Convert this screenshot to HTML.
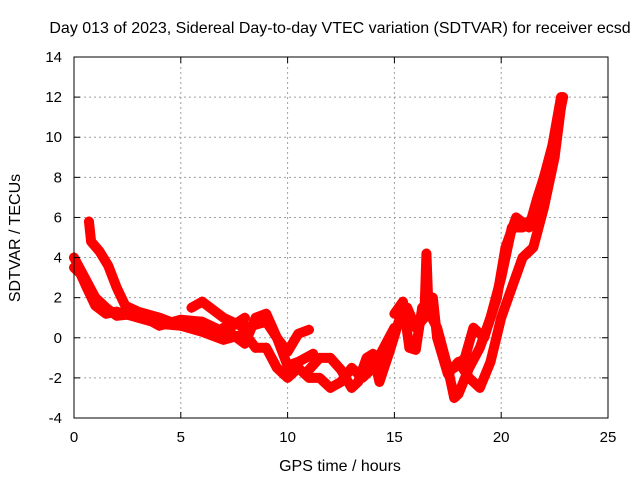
<!DOCTYPE html>
<html><head><meta charset="utf-8"><style>
html,body{margin:0;padding:0;background:#fff;}
svg{display:block;font-family:"Liberation Sans",sans-serif;}
</style></head><body>
<svg id="chart" width="640" height="480">
<text x="340" y="33" font-size="16" text-anchor="middle">Day 013 of 2023, Sidereal Day-to-day VTEC variation (SDTVAR) for receiver ecsd</text>
<text x="340" y="471" font-size="16" text-anchor="middle">GPS time / hours</text>
<text transform="translate(20,238) rotate(-90)" font-size="16" text-anchor="middle">SDTVAR / TECUs</text>
<g id="grid"></g><g id="marks"></g><g id="axes"></g>
</svg>
<script>
const xTicks=[0,5,10,15,20,25];
const yTicks=[-4,-2,0,2,4,6,8,10,12,14];
const seriesA=[[0,3.5],[0.3,3.2],[0.6,2.5],[1,1.6],[1.5,1.2],[2,1.3],[3,1.0],[4,0.7],[5,0.6],[6,0.3],[7,-0.1],[8,0.2],[8.5,-0.5],[9,-0.5],[9.5,-1.5],[10,-2],[10.5,-1.5],[11,-2.0],[11.5,-2.0],[12,-2.5],[12.5,-2.2],[13,-1.5],[13.5,-2.0],[14,-1.5],[14.5,-0.5],[15,0.5]];
const seriesB=[[0.7,5.8],[0.8,4.8],[1.2,4.3],[1.6,3.6],[2.0,2.5],[2.4,1.6],[3,1.3],[4,1.0],[4.5,0.8],[5,0.7]];
const seriesC=[[0,4],[0.5,3.0],[1,2.0],[1.5,1.5],[2,1.1],[3,1.2],[4,0.6],[5,0.9],[6,0.8],[7,0.3],[8,1.0]];
const seriesD=[[5.5,1.5],[6,1.8],[7,1.0],[8,0.5],[9,0.8],[9.5,0.0],[10,-0.7],[10.5,0.2],[11,0.4]];
const seriesE=[[7,0.5],[8,-0.3],[8.5,1.0],[9,1.2],[9.5,0],[10,-1.4],[10.5,-1.2],[11.2,-0.8]];
const seriesF=[[11,-1.6],[11.5,-1.0],[12,-1.0],[12.5,-1.6],[13,-2.5],[13.3,-2.2],[13.7,-1.0],[14,-0.8],[14.3,-2.2],[14.8,-0.6],[15.2,0.8],[15.6,1.5],[16,0.5],[16.4,1.0],[16.5,4.2],[16.6,1.3],[17,0.5],[17.5,-1.5],[17.8,-3.0],[18,-2.8],[18.5,-1.5],[19,-0.5],[19.5,1],[20,3],[20.5,5.5],[21,5.5],[21.5,6.0],[22,8],[22.5,10],[22.9,12]];
const seriesG=[[15,1.2],[15.4,1.8],[15.7,-0.5],[16,-0.6],[16.3,1.5],[16.8,2.0],[17,0],[17.5,-1.8],[18,-1.2],[18.5,-2.0],[19,-2.5],[19.5,-1.2],[20,1],[20.5,2.5],[21,4],[21.5,4.5],[22,6.5],[22.5,9],[22.8,11.5]];
const seriesH=[[17.8,-1.5],[18.3,-1.0],[18.7,0.5],[19.2,0],[19.8,2],[20.2,4.5],[20.7,6],[21.3,5.5],[21.7,7],[22.3,9],[22.8,12]];
const allSeries=[seriesA,seriesB,seriesC,seriesD,seriesE,seriesF,seriesG,seriesH];
const X0=74,X1=608,Y0=418,Y1=57;
const sx=v=>X0+(v-0)/(25-0)*(X1-X0);
const sy=v=>Y0-(v+4)/18*(Y0-Y1);
const NS="http://www.w3.org/2000/svg";
function mk(t,a,p){const e=document.createElementNS(NS,t);for(const k in a)e.setAttribute(k,a[k]);p.appendChild(e);return e;}
const grid=document.getElementById('grid'),axes=document.getElementById('axes'),marks=document.getElementById('marks');
xTicks.forEach(t=>{
 const x=sx(t);
 if(t>0&&t<25){const g=mk('line',{x1:x,x2:x,y1:Y1,y2:Y0,stroke:'#a0a0a0','stroke-dasharray':'2,3'},grid);
 
 }
 const l=mk('text',{x:x,y:Y0+24,'font-size':15,'text-anchor':'middle'},axes);l.textContent=t;
 
 
 mk('line',{x1:x,x2:x,y1:Y0,y2:Y0-6,stroke:'#000'},axes);
 mk('line',{x1:x,x2:x,y1:Y1,y2:Y1+6,stroke:'#000'},axes);
});
yTicks.forEach(t=>{
 const y=sy(t);
 if(t>-4&&t<14){const g=mk('line',{x1:X0,x2:X1,y1:y,y2:y,stroke:'#a0a0a0','stroke-dasharray':'2,3'},grid);
 
 }
 const l=mk('text',{x:X0-12,y:y+5,'font-size':15,'text-anchor':'end'},axes);l.textContent=t;
 
 
 mk('line',{x1:X0,x2:X0+6,y1:y,y2:y,stroke:'#000'},axes);
 mk('line',{x1:X1,x2:X1-6,y1:y,y2:y,stroke:'#000'},axes);
});
const frame=mk('rect',{x:X0,y:Y1,width:X1-X0,height:Y0-Y1,fill:'none',stroke:'#000'},axes);


allSeries.forEach((s,i)=>{
 const pl=mk('polyline',{points:s.map(p=>sx(p[0])+','+sy(p[1])).join(' '),fill:'none',stroke:'#ff0000','stroke-width':10,'stroke-linejoin':'round','stroke-linecap':'round'},marks);
 
 
 s.forEach(p=>{
  const x=sx(p[0]),y=sy(p[1]);
  const m=mk('path',{d:`M${x-5},${y}H${x+5}M${x},${y-5}V${y+5}`,stroke:'#ff0000','stroke-width':1.5},marks);
  
  
 });
});
</script>
</body></html>
